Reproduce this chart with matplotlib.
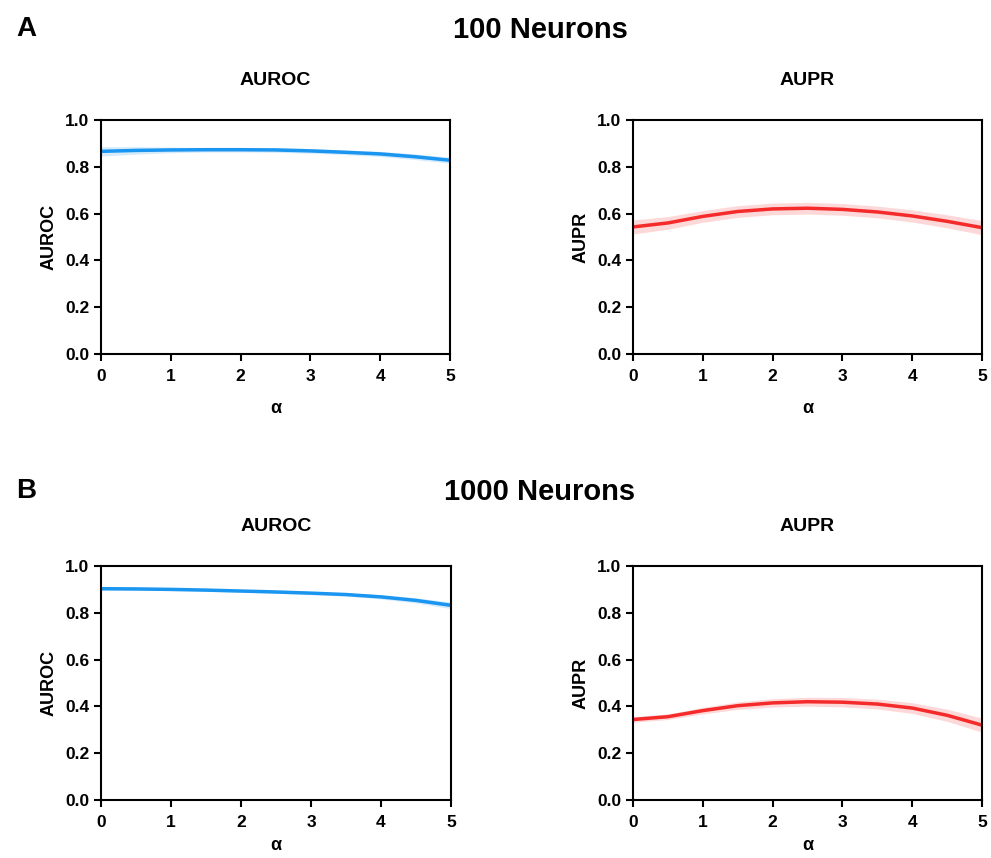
import numpy as np
import matplotlib.pyplot as plt

plt.rcParams['font.family'] = ['Liberation Sans', 'DejaVu Sans']
plt.rcParams['font.weight'] = 'bold'

alpha = [0, 0.5, 1, 1.5, 2, 2.5, 3, 3.5, 4, 4.5, 5]

# 100 neurons
auroc_100 = [0.866, 0.870, 0.872, 0.873, 0.873, 0.872, 0.868, 0.862, 0.855, 0.843, 0.828]
auroc_100_err = [0.020, 0.016, 0.012, 0.010, 0.010, 0.010, 0.010, 0.010, 0.011, 0.012, 0.013]
aupr_100 = [0.543, 0.560, 0.588, 0.609, 0.620, 0.623, 0.618, 0.607, 0.590, 0.567, 0.540]
aupr_100_err = [0.030, 0.027, 0.025, 0.025, 0.025, 0.025, 0.025, 0.025, 0.026, 0.028, 0.030]

# 1000 neurons
auroc_1000 = [0.903, 0.902, 0.900, 0.897, 0.893, 0.889, 0.884, 0.878, 0.868, 0.853, 0.832]
auroc_1000_err = [0.007, 0.006, 0.005, 0.005, 0.005, 0.006, 0.006, 0.007, 0.009, 0.011, 0.014]
aupr_1000 = [0.344, 0.356, 0.382, 0.403, 0.415, 0.420, 0.418, 0.410, 0.393, 0.362, 0.320]
aupr_1000_err = [0.012, 0.012, 0.014, 0.016, 0.018, 0.019, 0.020, 0.021, 0.023, 0.026, 0.030]

blue = '#1a95f0'
red = '#f52a2a'

W, H = 991, 858
fig = plt.figure(figsize=(W / 100, H / 100), dpi=100)


def make_ax(x0, y_top, x1, y_bot):
    return fig.add_axes([x0 / W, 1 - y_bot / H, (x1 - x0) / W, (y_bot - y_top) / H])


def style(ax, title, ylab, xpad):
    ax.set_xlim(0, 5)
    ax.set_ylim(0, 1)
    ax.set_xticks([0, 1, 2, 3, 4, 5])
    ax.set_yticks([0, 0.2, 0.4, 0.6, 0.8, 1.0])
    ax.set_yticklabels(['0.0', '0.2', '0.4', '0.6', '0.8', '1.0'])
    for s in ax.spines.values():
        s.set_linewidth(1.5)
    ax.tick_params(direction='out', length=5, width=1.5, labelsize=12.5)
    ax.tick_params(axis='x', pad=6)
    for lab in ax.get_xticklabels() + ax.get_yticklabels():
        lab.set_fontweight('bold')
    ax.set_title(title, fontsize=14, fontweight='bold', pad=25)
    ax.set_ylabel(ylab, fontsize=13, fontweight='bold', labelpad=5)
    ax.set_xlabel('α', fontsize=13, fontweight='bold', labelpad=xpad)


def draw(ax, y, err, color):
    y = np.array(y)
    err = np.array(err)
    ax.fill_between(alpha, y - err, y + err, color=color, alpha=0.18, lw=0)
    ax.plot(alpha, y, color=color, lw=2.5, solid_capstyle='round', solid_joinstyle='round')


ax1 = make_ax(101, 120, 450, 354)
ax2 = make_ax(633, 120, 982, 354)
ax3 = make_ax(101, 566, 451, 800)
ax4 = make_ax(633, 566, 982, 800)

draw(ax1, auroc_100, auroc_100_err, blue)
draw(ax2, aupr_100, aupr_100_err, red)
draw(ax3, auroc_1000, auroc_1000_err, blue)
draw(ax4, aupr_1000, aupr_1000_err, red)

style(ax1, 'AUROC', 'AUROC', 11)
style(ax2, 'AUPR', 'AUPR', 11)
style(ax3, 'AUROC', 'AUROC', 5)
style(ax4, 'AUPR', 'AUPR', 5)

fig.text(540 / W, 1 - 30 / H, '100 Neurons', ha='center', va='center', fontsize=21, fontweight='bold')
fig.text(540 / W, 1 - 492 / H, '1000 Neurons', ha='center', va='center', fontsize=21, fontweight='bold')
fig.text(16 / W, 1 - 29 / H, 'A', ha='left', va='center', fontsize=20, fontweight='bold')
fig.text(16 / W, 1 - 491 / H, 'B', ha='left', va='center', fontsize=20, fontweight='bold')

fig.savefig('out.png', dpi=100, facecolor='white')
